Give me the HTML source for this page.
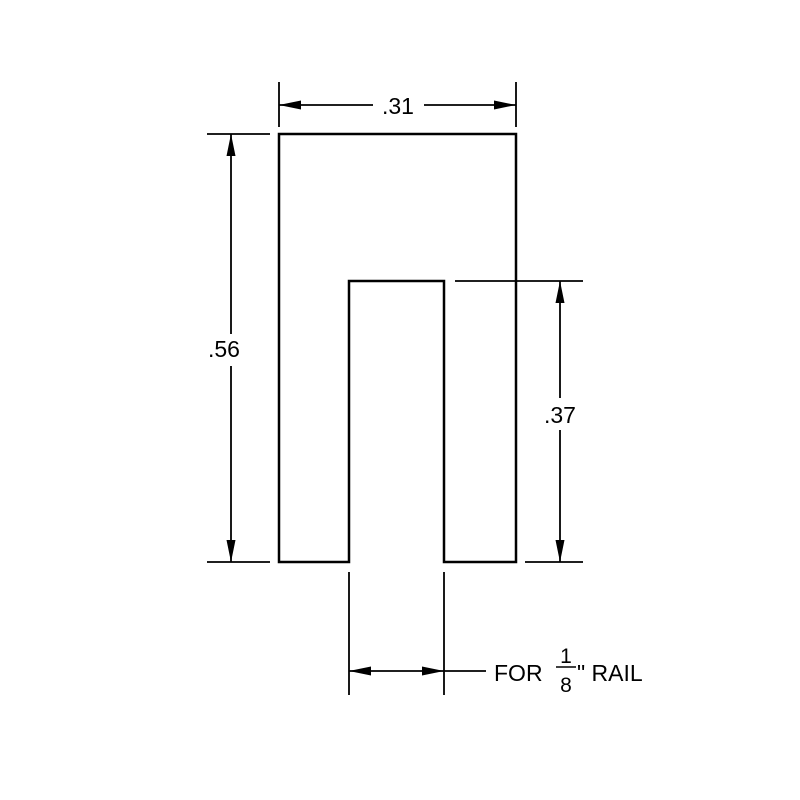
<!DOCTYPE html>
<html><head><style>html,body{margin:0;padding:0;background:#fff}svg{display:block}text{font-family:"Liberation Sans",sans-serif;fill:#000}</style></head>
<body>
<svg width="800" height="800" viewBox="0 0 800 800" xmlns="http://www.w3.org/2000/svg">
<defs>
<marker id="a" viewBox="0 0 22 9" refX="22" refY="4.5" markerWidth="22" markerHeight="9" markerUnits="userSpaceOnUse" orient="auto-start-reverse"><path d="M0,0 L22,4.5 L0,9 Z" fill="#000"/></marker>
</defs>
<g stroke="#000" stroke-width="2.5" fill="none">
<path d="M349,562 L279,562 L279,134 L516,134 L516,562 L444,562 L444,281 L349,281 Z" stroke-linejoin="miter"/>
</g>
<g stroke="#000" stroke-width="1.8" fill="none">
<line x1="279" y1="82" x2="279" y2="127"/>
<line x1="516" y1="82" x2="516" y2="127"/>
<line x1="279" y1="105" x2="373" y2="105" marker-start="url(#a)"/>
<line x1="424" y1="105" x2="516" y2="105" marker-end="url(#a)"/>
<line x1="207" y1="134" x2="270" y2="134"/>
<line x1="207" y1="562" x2="270" y2="562"/>
<line x1="231" y1="134" x2="231" y2="334" marker-start="url(#a)"/>
<line x1="231" y1="366" x2="231" y2="562" marker-end="url(#a)"/>
<line x1="455" y1="281" x2="583" y2="281"/>
<line x1="525" y1="562" x2="583" y2="562"/>
<line x1="560" y1="281" x2="560" y2="398" marker-start="url(#a)"/>
<line x1="560" y1="430" x2="560" y2="562" marker-end="url(#a)"/>
<line x1="349" y1="572" x2="349" y2="695"/>
<line x1="444" y1="572" x2="444" y2="695"/>
<line x1="349" y1="671" x2="444" y2="671" marker-start="url(#a)" marker-end="url(#a)"/>
<line x1="444" y1="671" x2="486" y2="671"/>
<line x1="556" y1="667" x2="576" y2="667" stroke-width="1.5"/>
</g>
<text x="398" y="114" font-size="23" text-anchor="middle">.31</text>
<text x="224" y="357" font-size="23" text-anchor="middle">.56</text>
<text x="560" y="423" font-size="23" text-anchor="middle">.37</text>
<text x="494" y="681" font-size="23">FOR</text>
<text x="566" y="663" font-size="21" text-anchor="middle">1</text>
<text x="566" y="692" font-size="21" text-anchor="middle">8</text>
<text x="577" y="681" font-size="23">" RAIL</text>
</svg>
</body></html>
